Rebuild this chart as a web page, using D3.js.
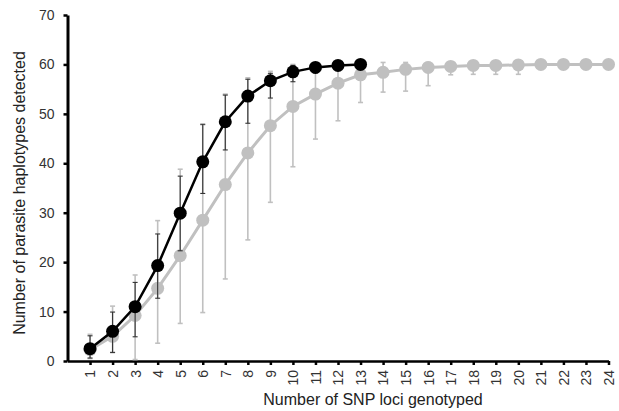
<!DOCTYPE html>
<html><head><meta charset="utf-8">
<script src="https://cdn.jsdelivr.net/npm/d3@7"></script>
<style>body{margin:0;background:#fff}svg{display:block}</style>
</head><body>
<script>
const lociBlack = [1,2,3,4,5,6,7,8,9,10,11,12,13];
const meanBlack = [2.5,6.0,11.0,19.3,29.9,40.3,48.4,53.6,56.7,58.5,59.4,59.8,60.0];
const lowBlack  = [0.6,1.7,4.9,12.7,22.3,33.9,42.7,48.1,53.2,56.5,58.3,59.3,59.7];
const highBlack = [5.1,9.9,15.9,25.7,37.4,47.9,53.8,57.0,58.2,59.8,60.2,60.2,60.2];

const lociGray = [1,2,3,4,5,6,7,8,9,10,11,12,13,14,15,16,17,18,19,20,21,22,23,24];
const meanGray = [2.3,5.0,9.2,14.7,21.3,28.5,35.7,42.1,47.6,51.5,54.0,56.2,57.9,58.4,59.0,59.4,59.6,59.8,59.8,59.9,60.0,60.0,60.0,60.0];
const lowGray  = [0.5,1.8,0.3,3.6,7.6,9.8,16.6,24.5,32.1,39.3,44.9,48.6,52.3,54.4,54.6,55.7,57.9,58.0,58.0,58.0,60.0,60.0,60.0,60.0];
const highGray = [5.4,11.1,17.4,28.4,38.8,47.8,54.0,57.3,58.6,60.0,60.2,60.3,60.3,60.4,60.4,60.4,60.4,60.4,60.4,60.4,60.0,60.0,60.0,60.0];

const xTicks = d3.range(1,25);
const yTicks = [0,10,20,30,40,50,60,70];

const W=619,H=411;
const svg=d3.select("body").append("svg").attr("width",W).attr("height",H);
const x=d3.scaleLinear().domain([0,24]).range([67.5,608.5]);
const y=d3.scaleLinear().domain([0,70]).range([361,15]);

const font='"Liberation Sans", Arial, sans-serif';

// y axis
const ya=svg.append("g").attr("transform","translate(67.5,0)")
  .call(d3.axisLeft(y).tickValues(yTicks).tickSize(4).tickSizeOuter(0).tickPadding(9));
ya.select(".domain").attr("stroke","#000").attr("stroke-width",3);
ya.selectAll(".tick line").attr("stroke","#000").attr("stroke-width",2.5);
ya.selectAll(".tick text").attr("font-family",font).attr("font-size",14).attr("fill","#333");

// x axis
const xa=svg.append("g").attr("transform","translate(0,361)")
  .call(d3.axisBottom(x).tickValues(xTicks).tickSize(4).tickSizeOuter(0));
xa.select(".domain").attr("stroke","#000").attr("stroke-width",2.5);
xa.selectAll(".tick line").attr("stroke","#000").attr("stroke-width",2.5);
xa.selectAll(".tick text").attr("font-family",font).attr("font-size",14).attr("fill","#333")
  .attr("transform","rotate(-90)").attr("text-anchor","end").attr("dy","0.35em").attr("x",-9).attr("y",0);

// labels
svg.append("text").attr("x",373).attr("y",405).attr("text-anchor","middle")
  .attr("font-family",font).attr("font-size",16).attr("fill","#222").text("Number of SNP loci genotyped");
svg.append("text").attr("transform","translate(25,193) rotate(-90)").attr("text-anchor","middle")
  .attr("font-family",font).attr("font-size",16).attr("fill","#222").text("Number of parasite haplotypes detected");

function series(loci,mean,low,high,color,barColor,barW,lineW){
  const g=svg.append("g");
  const data=loci.map((l,i)=>({l,m:mean[i],lo:low[i],hi:high[i]}));
  const eb=g.append("g").attr("stroke",barColor).attr("stroke-width",barW);
  data.forEach(d=>{
    if (d.hi-d.lo<0.1) return;
    eb.append("line").attr("x1",x(d.l)).attr("x2",x(d.l)).attr("y1",y(d.lo)).attr("y2",y(d.hi));
    eb.append("line").attr("x1",x(d.l)-2.5).attr("x2",x(d.l)+2.5).attr("y1",y(d.lo)).attr("y2",y(d.lo));
    eb.append("line").attr("x1",x(d.l)-2.5).attr("x2",x(d.l)+2.5).attr("y1",y(d.hi)).attr("y2",y(d.hi));
  });
  g.append("path").datum(data).attr("fill","none").attr("stroke",color).attr("stroke-width",lineW)
    .attr("d",d3.line().x(d=>x(d.l)).y(d=>y(d.m)));
  g.selectAll("circle").data(data).join("circle").attr("cx",d=>x(d.l)).attr("cy",d=>y(d.m)).attr("r",6.5).attr("fill",color);
}
series(lociGray,meanGray,lowGray,highGray,"#c0c0c0","#c0c0c0",1.6,3);
series(lociBlack,meanBlack,lowBlack,highBlack,"#000","#333",1.1,2.5);
</script>
</body></html>
